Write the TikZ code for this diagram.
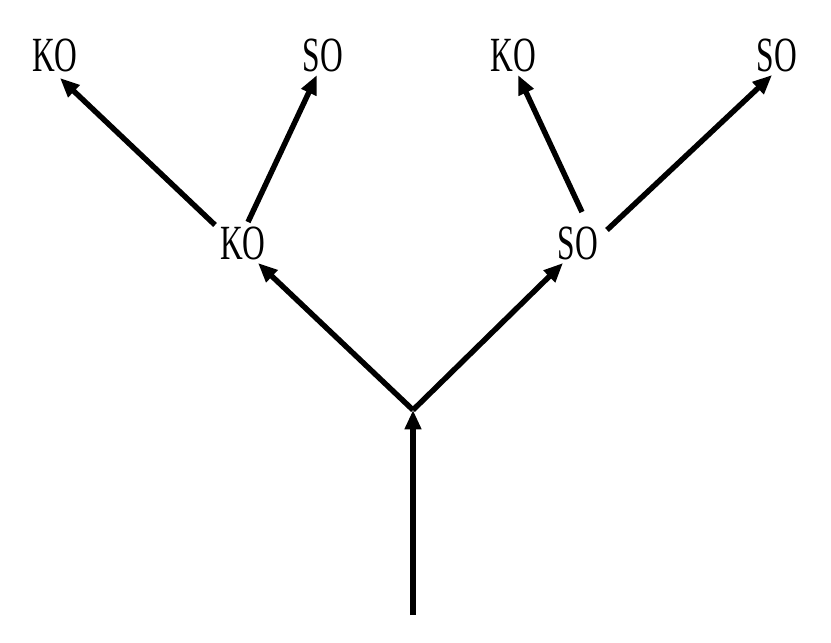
\documentclass[tikz,border=0pt]{standalone}
\usepackage{fontspec}
\setmainfont{Liberation Serif}
\usetikzlibrary{arrows.meta}
\begin{document}
\begin{tikzpicture}[x=0.02cm,y=-0.02cm,
  lbl/.style={font=\fontsize{28}{28}\selectfont, xscale=0.64, inner sep=0pt},
  arr/.style={line width=3.1pt, -{Triangle[length=11pt,width=9pt]}}]
\useasboundingbox (0,0) rectangle (831,642);
\node[lbl] (k1) at (243,243) {KO};
\node[lbl] (s1) at (578,243) {SO};
\node[lbl] (k2) at (55,55) {KO};
\node[lbl] (s2) at (323,55) {SO};
\node[lbl] (k3) at (513,55) {KO};
\node[lbl] (s3) at (777,55) {SO};
\coordinate (bot) at (413,615);
\coordinate (j) at (413,410);
\coordinate (k1a) at (258,263);
\coordinate (s1a) at (563,263);
\coordinate (k1b) at (215,225);
\coordinate (k1c) at (248,222);
\coordinate (s1b) at (582,212);
\coordinate (s1c) at (607,230);
\draw[arr] (bot) -- (j);
\draw[arr] (j) -- (k1a);
\draw[arr] (j) -- (s1a);
\draw[arr] (k1b) -- (60,78);
\draw[arr] (k1c) -- (317,75);
\draw[arr] (s1b) -- (518,75);
\draw[arr] (s1c) -- (772,75);
\end{tikzpicture}
\end{document}
